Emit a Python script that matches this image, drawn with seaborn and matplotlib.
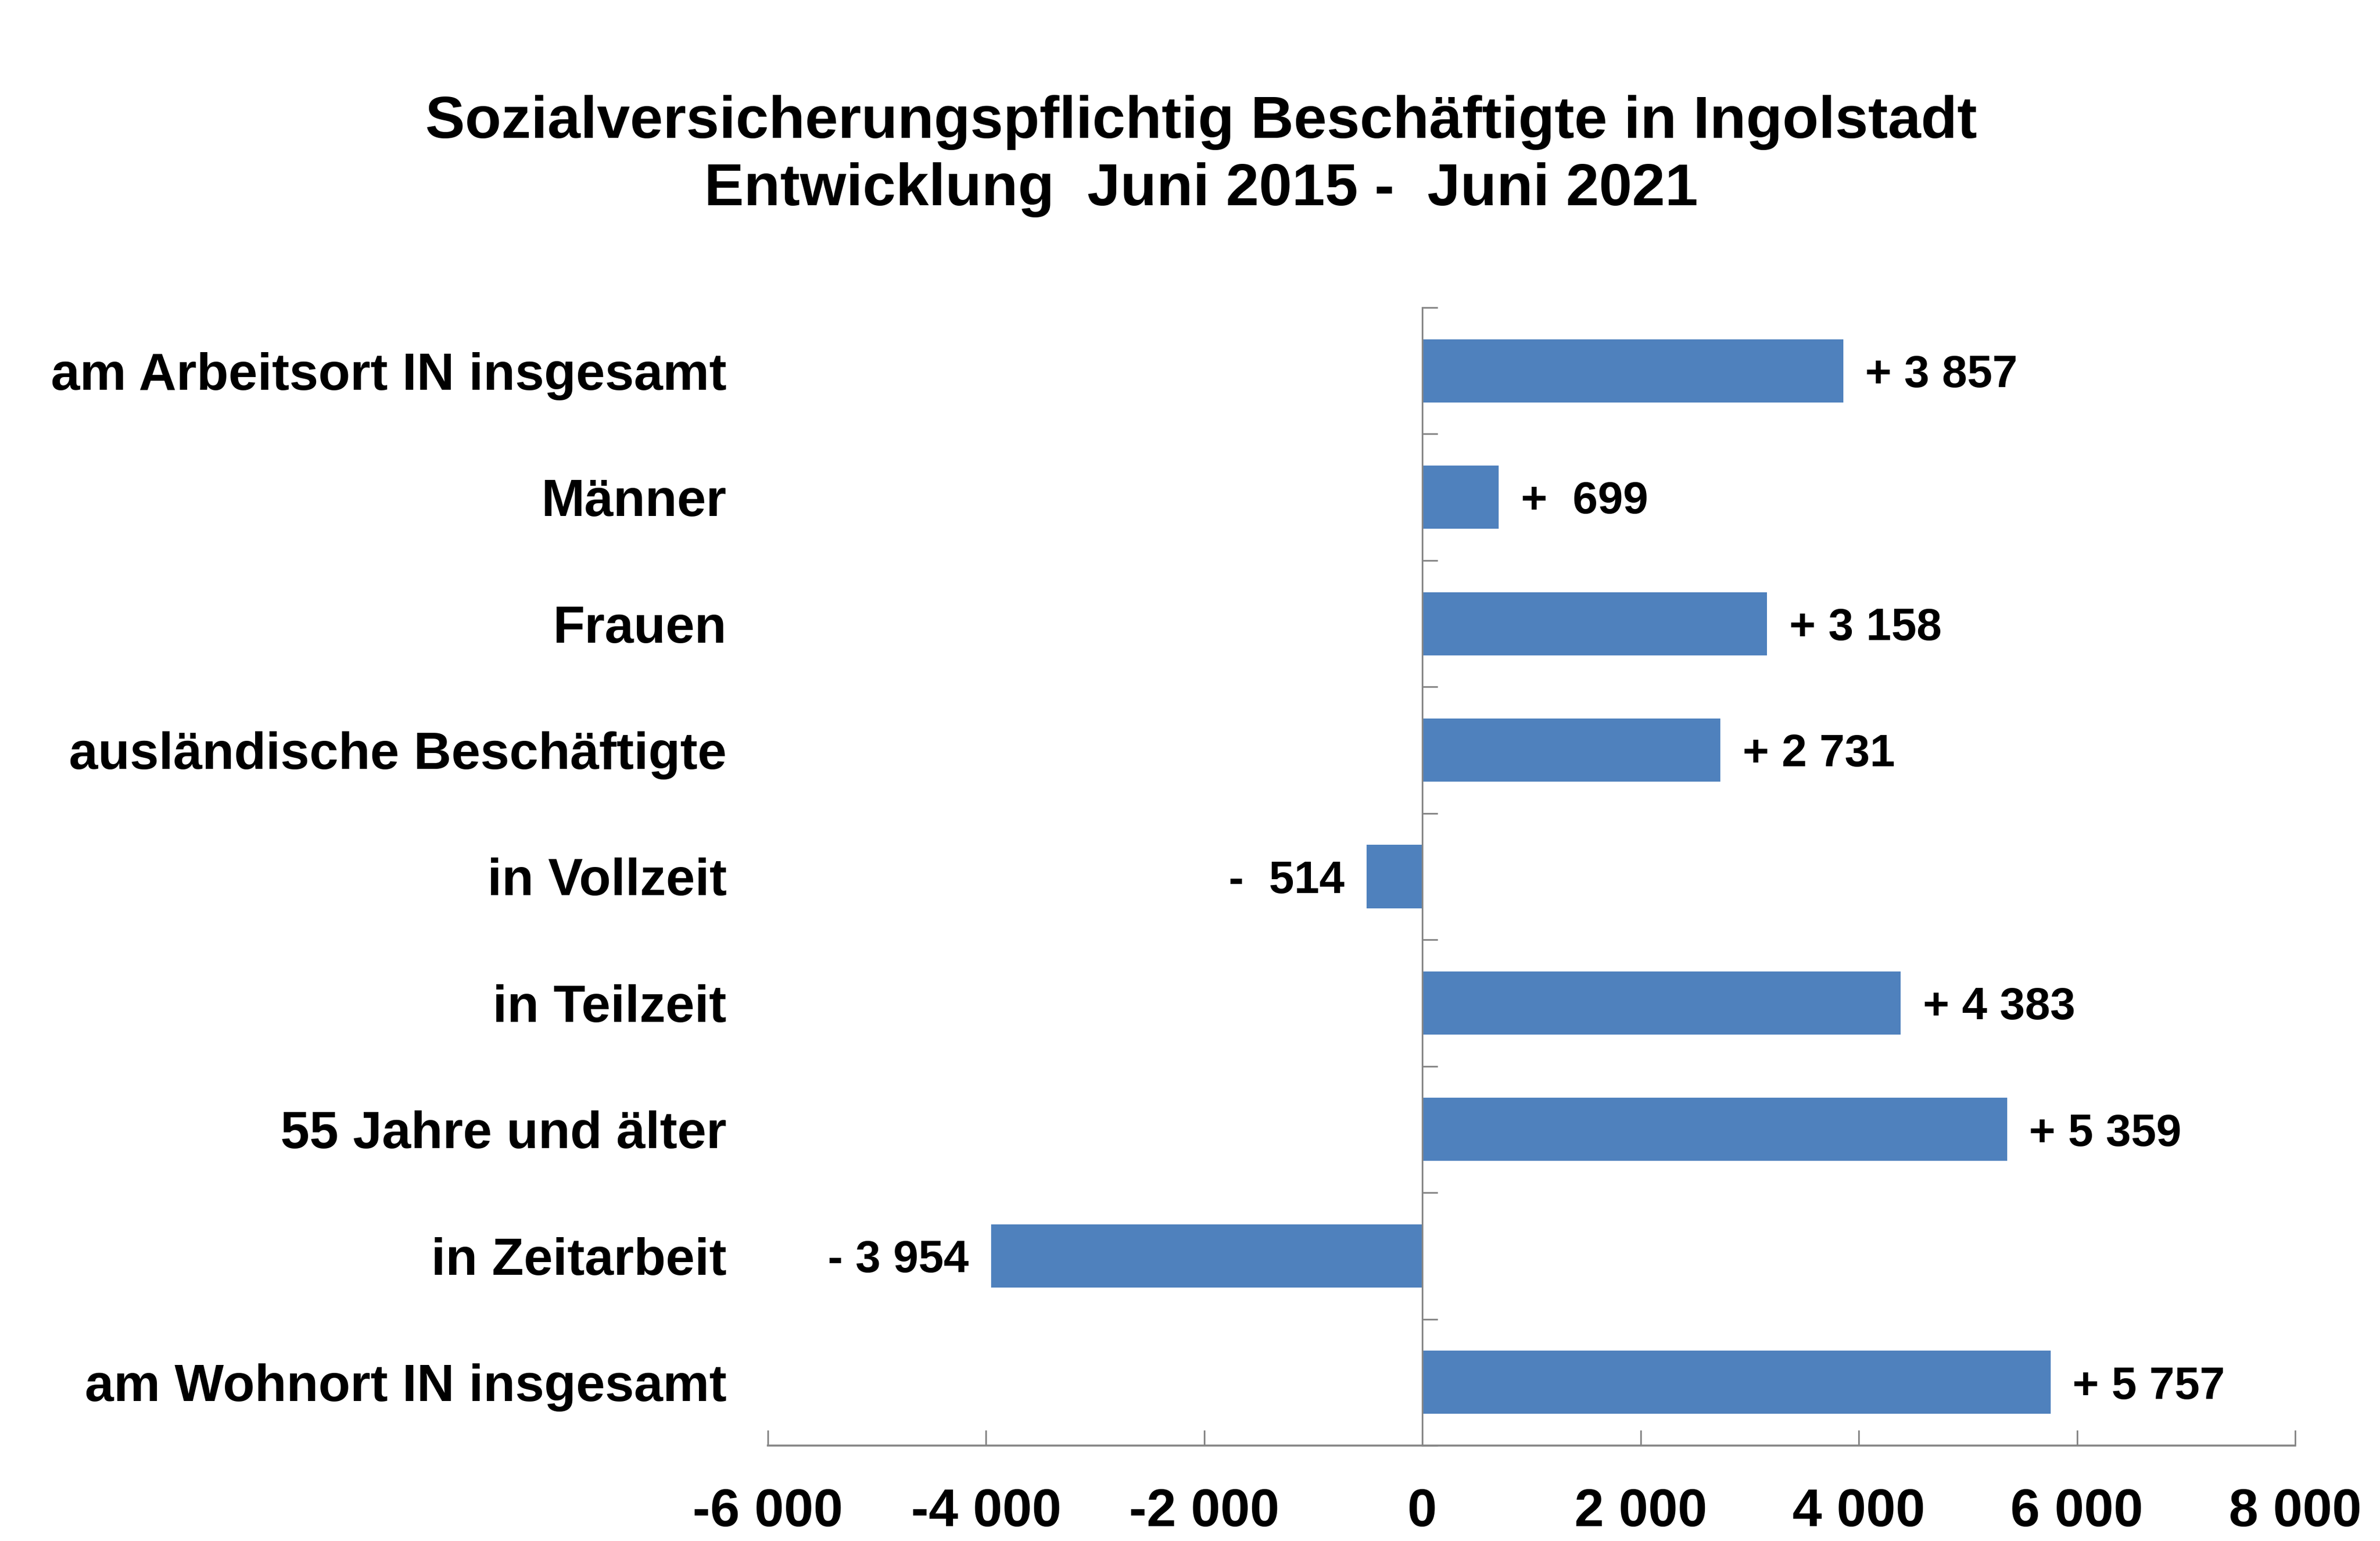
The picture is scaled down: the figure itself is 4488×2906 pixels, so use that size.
import matplotlib
matplotlib.use("Agg")
import matplotlib.pyplot as plt
import matplotlib.ticker as mticker
import seaborn as sns
import pandas as pd

categories = [
    "am Arbeitsort IN insgesamt",
    "Männer",
    "Frauen",
    "ausländische Beschäftigte",
    "in Vollzeit",
    "in Teilzeit",
    "55 Jahre und älter",
    "in Zeitarbeit",
    "am Wohnort IN insgesamt",
]
values = [3857, 699, 3158, 2731, -514, 4383, 5359, -3954, 5757]
x_ticks = [-6000, -4000, -2000, 0, 2000, 4000, 6000, 8000]
title_lines = ["Sozialversicherungspflichtig Beschäftigte in Ingolstadt",
               "Entwicklung  Juni 2015 -  Juni 2021"]

sns.set_theme(style="white")
plt.rcParams["font.family"] = ["Liberation Sans", "DejaVu Sans"]
plt.rcParams["font.weight"] = "bold"
plt.rcParams["text.color"] = "black"
plt.rcParams["xtick.labelcolor"] = "black"
plt.rcParams["ytick.labelcolor"] = "black"

BLUE = "#4F81BD"
GREY = "#868686"

df = pd.DataFrame({"cat": categories, "val": values})

W, H = 4488, 2906
L, R, T, B = 1448, 4328, 580, 2726
fig = plt.figure(figsize=(W / 300, H / 300), dpi=300)
ax = fig.add_axes([L / W, 1 - B / H, (R - L) / W, (B - T) / H])

sns.barplot(data=df, x="val", y="cat", orient="h", color=BLUE, width=0.5,
            linewidth=0, saturation=1, ax=ax)

n = len(categories)
ax.set_ylim(n - 0.5, -0.5)
ax.set_xlim(x_ticks[0], x_ticks[-1])
ax.set_xlabel("")
ax.set_ylabel("")

# spines
for s in ["top", "right"]:
    ax.spines[s].set_visible(False)
ax.spines["left"].set_position(("data", 0))
ax.spines["left"].set_color(GREY)
ax.spines["left"].set_linewidth(0.75)
ax.spines["bottom"].set_color(GREY)
ax.spines["bottom"].set_linewidth(0.9)

# y ticks: boundaries as minor ticks, no labels
ax.set_yticks(range(n))
ax.set_yticklabels([])
ax.yaxis.set_minor_locator(mticker.FixedLocator([i - 0.5 for i in range(n + 1)]))
ax.tick_params(axis="y", which="major", length=0)
ax.tick_params(axis="y", which="minor", direction="in", length=7, width=0.75,
               color=GREY, left=True)

# x ticks
ax.set_xticks(x_ticks)
ax.xaxis.set_major_formatter(mticker.FuncFormatter(
    lambda v, p: f"{int(v):,}".replace(",", " ")))
ax.tick_params(axis="x", direction="in", length=7, width=0.75, color=GREY,
               pad=19, labelsize=24, bottom=True, labelcolor="black")
for lab in ax.get_xticklabels():
    lab.set_fontweight("bold")

# category labels (cap height centred on the category)
CAT_FS = 23.6
for i, c in enumerate(categories):
    ax.annotate(c, xy=(-0.027, i), xycoords=ax.get_yaxis_transform(),
                xytext=(0, -0.36 * CAT_FS), textcoords="offset points",
                ha="right", va="baseline", fontsize=CAT_FS,
                fontweight="bold", color="black")

# value labels
VAL_FS = 20.5
for i, v in enumerate(values):
    sign = "+" if v > 0 else "-"
    num = f"{abs(v):,}".replace(",", " ")
    lab = f"{sign} {num}" if abs(v) >= 1000 else f"{sign}  {num}"
    off = 10 if v > 0 else -10
    ax.annotate(lab, xy=(v, i), xytext=(off, -0.36 * VAL_FS),
                textcoords="offset points",
                ha="left" if v > 0 else "right", va="baseline", fontsize=VAL_FS,
                fontweight="bold", color="black")

fig.text(0.5047, 1 - 260 / H, title_lines[0], ha="center", va="baseline",
         fontsize=26.9, fontweight="bold", color="black")
fig.text(0.5047, 1 - 387 / H, title_lines[1], ha="center", va="baseline",
         fontsize=26.9, fontweight="bold", color="black")

fig.savefig("out.png", dpi=300, facecolor="white")
